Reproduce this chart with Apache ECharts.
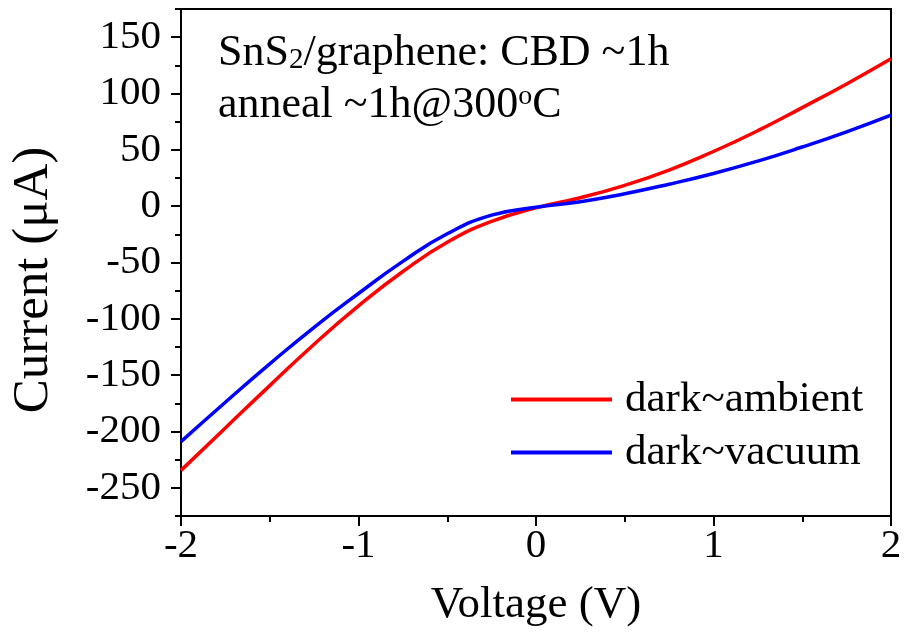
<!DOCTYPE html>
<html>
<head>
<meta charset="utf-8">
<script src="https://cdn.jsdelivr.net/npm/echarts@6/dist/echarts.min.js"></script>
<style>html,body{margin:0;padding:0;background:#fff}#c{width:904px;height:641px}</style>
</head>
<body>
<div id="c"></div>
<script>
const voltage = [-2, -1.75, -1.5, -1.25, -1, -0.75, -0.5, -0.25, 0, 0.25, 0.5, 0.75, 1, 1.25, 1.5, 1.75, 2];
const darkAmbient = [-234.5, -196.8, -159.3, -122.5, -88.5, -58, -32, -13.5, -1.5, 7.5, 18.5, 32, 48.5, 67, 87.5, 108.5, 130.8];
const darkVacuum = [-209, -174, -140, -107.5, -77.5, -49, -24.5, -8, -1, 4, 11, 19.5, 29, 40, 52.5, 66, 80.8];
const seriesNames = ['dark~ambient', 'dark~vacuum'];
const majorY = [-250, -200, -150, -100, -50, 0, 50, 100, 150];
const minorY = [-275, -225, -175, -125, -75, -25, 25, 75, 125, 175];

const FONT = '"Liberation Serif", "Times New Roman", serif';
const pair = (xs, ys) => xs.map((x, i) => [x, ys[i]]);

const chart = echarts.init(document.getElementById('c'));
chart.setOption({
  backgroundColor: '#fff',
  animation: false,
  grid: { left: 181, right: 13, top: 9, bottom: 125, show: true, borderColor: '#000', borderWidth: 2,
          backgroundColor: 'transparent', containLabel: false, outerBoundsMode: 'none' },
  xAxis: {
    type: 'value', min: -2, max: 2, interval: 1,
    axisLine: { show: true, onZero: false, lineStyle: { color: '#000', width: 2 } },
    axisTick: { show: true, inside: false, length: 10, lineStyle: { color: '#000', width: 2 } },
    minorTick: { show: true, splitNumber: 2, length: 6, lineStyle: { color: '#000', width: 2 } },
    splitLine: { show: false },
    axisLabel: { color: '#000', fontFamily: FONT, fontSize: 41, margin: 10 },
    name: 'Voltage (V)', nameLocation: 'middle', nameGap: 67,
    nameTextStyle: { color: '#000', fontFamily: FONT, fontSize: 45 }
  },
  yAxis: [{
    type: 'value', min: -275, max: 175,
    axisLine: { show: true, onZero: false, lineStyle: { color: '#000', width: 2 } },
    axisTick: { show: true, inside: false, length: 10, customValues: majorY, lineStyle: { color: '#000', width: 2 } },
    splitLine: { show: false },
    axisLabel: { color: '#000', fontFamily: FONT, fontSize: 41, margin: 20, customValues: majorY }
  }, {
    type: 'value', min: -275, max: 175, position: 'left',
    axisLine: { show: false, onZero: false },
    axisTick: { show: true, inside: false, length: 6, customValues: minorY, lineStyle: { color: '#000', width: 2 } },
    axisLabel: { show: false },
    splitLine: { show: false }
  }],
  legend: {
    orient: 'vertical', left: 511, top: 378, padding: 0, itemWidth: 101, itemHeight: 4, itemGap: 10,
    textStyle: { color: '#000', fontFamily: FONT, fontSize: 43, padding: [0, 0, 0, 8] },
    data: seriesNames.map(n => ({ name: n, icon: 'rect' }))
  },
  graphic: [
    { type: 'text', left: 218, top: 26, style: {
      text: 'SnS{sub|2}/graphene: CBD ~1h', fill: '#000', font: '44px ' + FONT,
      rich: { sub: { fontSize: 29, fontFamily: FONT, lineHeight: 29, verticalAlign: 'bottom', padding: [20, 0, 0, 0] } }
    } },
    { type: 'text', left: 218, top: 83, style: {
      text: 'anneal ~1h@300{sup|o}C', fill: '#000', font: '44px ' + FONT,
      rich: { sup: { fontSize: 28, fontFamily: FONT, lineHeight: 28, verticalAlign: 'top' } }
    } },
    { type: 'text', x: 34, y: 280, rotation: Math.PI / 2, style: {
      text: 'Current (μA)', fill: '#000', font: '51px ' + FONT, textAlign: 'center', textVerticalAlign: 'middle'
    } }
  ],
  series: [
    { name: seriesNames[0], type: 'line', data: pair(voltage, darkAmbient), smooth: 0.5, symbol: 'none',
      lineStyle: { color: '#ff0000', width: 3.5 }, itemStyle: { color: '#ff0000' } },
    { name: seriesNames[1], type: 'line', data: pair(voltage, darkVacuum), smooth: 0.5, symbol: 'none',
      lineStyle: { color: '#0000ff', width: 3.5 }, itemStyle: { color: '#0000ff' } }
  ]
});
</script>
</body>
</html>
